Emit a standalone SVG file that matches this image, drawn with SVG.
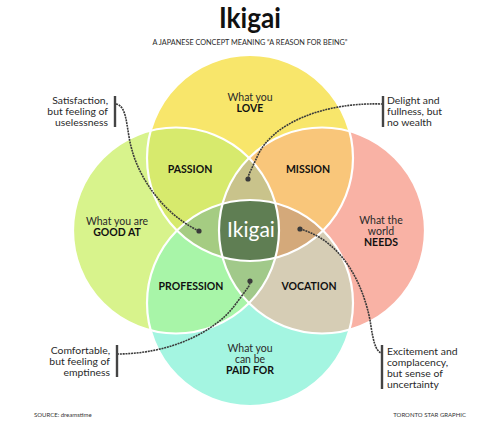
<svg xmlns="http://www.w3.org/2000/svg" width="498" height="432" viewBox="0 0 498 432">
<style>
.t{font-family:Lato,"Liberation Sans",sans-serif;fill:#2a2a2a;font-size:10.5px}
.b{font-family:Lato,"Liberation Sans",sans-serif;fill:#111;font-size:10.5px;font-weight:bold}
.c{text-anchor:middle}
.r{text-anchor:end}
.ann{font-family:Lato,"Liberation Sans",sans-serif;fill:#2a2a2a;font-size:10.4px}
.foot{font-family:Lato,"Liberation Sans",sans-serif;fill:#333;font-size:6px}
.ring{fill:none;stroke:#fff;stroke-width:2.2}
.con{fill:none;stroke:#3a3a3a;stroke-width:1.6;stroke-dasharray:2 0.8}
.bar{stroke:#444;stroke-width:2.4}
.dot{fill:#3a3a3a}
</style>
<defs>
<clipPath id="cT"><circle cx="250" cy="158" r="103"/></clipPath>
<clipPath id="cL"><circle cx="176" cy="230.5" r="103"/></clipPath>
<clipPath id="cR"><circle cx="322" cy="230.5" r="103"/></clipPath>
<clipPath id="cB"><circle cx="250" cy="303" r="103"/></clipPath>
</defs>
<rect width="498" height="432" fill="#fff"/>
<g id="title">
<text x="250" y="28" class="b c" style="font-size:28px" textLength="62" lengthAdjust="spacingAndGlyphs">Ikigai</text>
<text x="250" y="45" class="t c" style="font-size:7.6px" textLength="195" lengthAdjust="spacingAndGlyphs">A JAPANESE CONCEPT MEANING “A REASON FOR BEING”</text>
</g>
<g id="circles">
<circle id="love" cx="250" cy="158" r="103" fill="#f8e66b"/>
<circle id="goodat" cx="176" cy="230.5" r="103" fill="#d8f38c"/>
<circle id="needs" cx="322" cy="230.5" r="103" fill="#f9b2a5"/>
<circle id="paidfor" cx="250" cy="303" r="103" fill="#a4f5e1"/>
<g id="passion" clip-path="url(#cT)"><circle cx="176" cy="230.5" r="103" fill="#d7ea6d"/></g>
<g id="mission" clip-path="url(#cT)"><circle cx="322" cy="230.5" r="103" fill="#f9c67a"/></g>
<g id="profession" clip-path="url(#cB)"><circle cx="176" cy="230.5" r="103" fill="#a8f5a8"/></g>
<g id="vocation" clip-path="url(#cB)"><circle cx="322" cy="230.5" r="103" fill="#d6cdb5"/></g>
<g id="lens-top" clip-path="url(#cT)"><g clip-path="url(#cL)"><circle cx="322" cy="230.5" r="103" fill="#c9c38b"/></g></g>
<g id="lens-left" clip-path="url(#cT)"><g clip-path="url(#cB)"><circle cx="176" cy="230.5" r="103" fill="#a5cc82"/></g></g>
<g id="lens-right" clip-path="url(#cT)"><g clip-path="url(#cB)"><circle cx="322" cy="230.5" r="103" fill="#d4a97a"/></g></g>
<g id="lens-bottom" clip-path="url(#cB)"><g clip-path="url(#cL)"><circle cx="322" cy="230.5" r="103" fill="#a1c98a"/></g></g>
<g id="center" clip-path="url(#cT)"><g clip-path="url(#cB)"><g clip-path="url(#cL)"><circle cx="322" cy="230.5" r="103" fill="#5f7e53"/></g></g></g>
<circle class="ring" cx="250" cy="158" r="103"/>
<circle class="ring" cx="176" cy="230.5" r="103"/>
<circle class="ring" cx="322" cy="230.5" r="103"/>
<circle class="ring" cx="250" cy="303" r="103"/>
</g>
<g id="labels">
<text x="250" y="101" class="t c">What you</text>
<text x="250" y="112" class="b c">LOVE</text>
<text x="117" y="225" class="t c">What you are</text>
<text x="117" y="236" class="b c">GOOD AT</text>
<text x="381" y="224" class="t c">What the</text>
<text x="381" y="235" class="t c">world</text>
<text x="381" y="246" class="b c">NEEDS</text>
<text x="250" y="352" class="t c">What you</text>
<text x="250" y="363" class="t c">can be</text>
<text x="250" y="374" class="b c">PAID FOR</text>
<text x="190" y="173" class="b c">PASSION</text>
<text x="308" y="173" class="b c">MISSION</text>
<text x="191" y="290" class="b c">PROFESSION</text>
<text x="309" y="290" class="b c">VOCATION</text>
<text x="251" y="237" class="c" style="font-family:Lato,'Liberation Sans',sans-serif;font-size:21px;fill:#fff">Ikigai</text>
</g>
<g id="connectors">
<path class="con" d="M116,104 C128,106 126,130 132,150 C140,180 165,215 199,231"/>
<path class="con" d="M383,104 C320,102 272,125 258,155 S250,172 248,179"/>
<path class="con" d="M117,354 C170,354 215,332 235,305 S248,288 250,281"/>
<path class="con" d="M300,229 C340,240 362,280 370,320 C373,340 375,350 381,353"/>
<circle class="dot" cx="199" cy="231" r="2.6"/>
<circle class="dot" cx="248" cy="179" r="2.6"/>
<circle class="dot" cx="250" cy="281" r="2.6"/>
<circle class="dot" cx="300" cy="229" r="2.6"/>
</g>
<g id="ann-passion">
<line class="bar" x1="115" y1="96" x2="115" y2="127"/>
<text x="108" y="104" class="ann r">Satisfaction,</text>
<text x="108" y="115" class="ann r">but feeling of</text>
<text x="108" y="126" class="ann r">uselessness</text>
</g>
<g id="ann-mission">
<line class="bar" x1="383" y1="96" x2="383" y2="127"/>
<text x="387" y="104" class="ann">Delight and</text>
<text x="387" y="115" class="ann">fullness, but</text>
<text x="387" y="126" class="ann">no wealth</text>
</g>
<g id="ann-profession">
<line class="bar" x1="117" y1="345" x2="117" y2="377"/>
<text x="110" y="354" class="ann r">Comfortable,</text>
<text x="110" y="365" class="ann r">but feeling of</text>
<text x="110" y="376" class="ann r">emptiness</text>
</g>
<g id="ann-vocation">
<line class="bar" x1="382" y1="345" x2="382" y2="389"/>
<text x="387" y="355" class="ann">Excitement and</text>
<text x="387" y="366" class="ann">complacency,</text>
<text x="387" y="377" class="ann">but sense of</text>
<text x="387" y="388" class="ann">uncertainty</text>
</g>
<g id="footer">
<text x="34" y="417" class="foot">SOURCE: dreamstime</text>
<text x="466" y="417" class="foot r">TORONTO STAR GRAPHIC</text>
</g>
</svg>
